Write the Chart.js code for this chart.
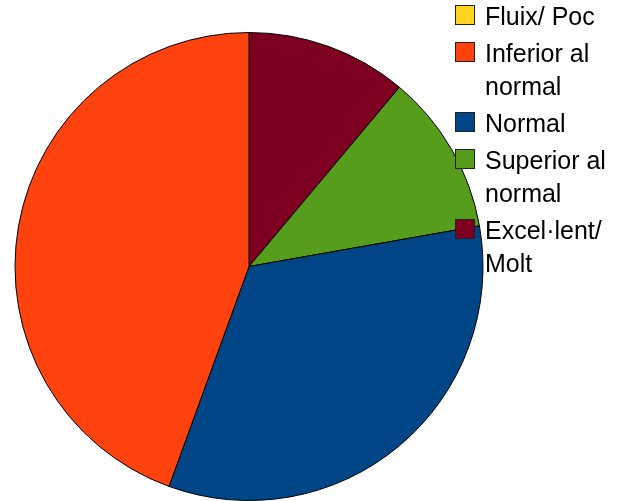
<!DOCTYPE html>
<html>
<head>
<meta charset="utf-8">
<script src="https://cdn.jsdelivr.net/npm/chart.js@4.4.0/dist/chart.umd.min.js"></script>
<style>
  html, body { margin: 0; padding: 0; background: #fff; }
  #wrap { position: relative; width: 622px; height: 501px; overflow: hidden; }
  #pie { position: absolute; left: 0; top: 0; }
  #legend {
    position: absolute; left: 455px; top: 0px;
    font-family: "Liberation Sans", Arial, sans-serif; font-size: 25px; color: #000;
    line-height: 33px; margin: 0; padding: 0; list-style: none;
  }
  #legend li { position: relative; padding-left: 30px; margin-bottom: 4px; }
  #legend .sw {
    position: absolute; left: 0; top: 5px; width: 18px; height: 18px;
    border: 1px solid #222;
  }
</style>
</head>
<body>
<div id="wrap">
  <canvas id="pie" width="622" height="501"></canvas>
  <ul id="legend"></ul>
</div>
<script>
  const categories = ['Fluix/ Poc', 'Inferior al normal', 'Normal', 'Superior al normal', 'Excel·lent/ Molt'];
  const legendLines = [['Fluix/ Poc'], ['Inferior al', 'normal'], ['Normal'], ['Superior al', 'normal'], ['Excel·lent/', 'Molt']];
  const counts = [0, 4, 3, 1, 1];
  const colors = ['#ffd320', '#ff420e', '#004586', '#579d1c', '#7e0021'];

  // slices run counter-clockwise from 12 o'clock, so feed them reversed
  const order = categories.map((_, i) => categories.length - 1 - i);

  const legendEl = document.getElementById('legend');
  categories.forEach((cat, i) => {
    const li = document.createElement('li');
    const sw = document.createElement('span');
    sw.className = 'sw';
    sw.style.background = colors[i];
    li.appendChild(sw);
    legendLines[i].forEach((line, j) => {
      if (j > 0) li.appendChild(document.createElement('br'));
      li.appendChild(document.createTextNode(line));
    });
    legendEl.appendChild(li);
  });

  new Chart(document.getElementById('pie'), {
    type: 'pie',
    data: {
      labels: order.map(i => categories[i]),
      datasets: [{
        data: order.map(i => counts[i]),
        backgroundColor: order.map(i => colors[i]),
        borderColor: '#000',
        borderWidth: 1
      }]
    },
    options: {
      responsive: false,
      animation: false,
      layout: { padding: { left: 14, right: 138, top: 32, bottom: 0 } },
      plugins: {
        legend: { display: false },
        tooltip: { enabled: false }
      }
    }
  });
</script>
</body>
</html>
